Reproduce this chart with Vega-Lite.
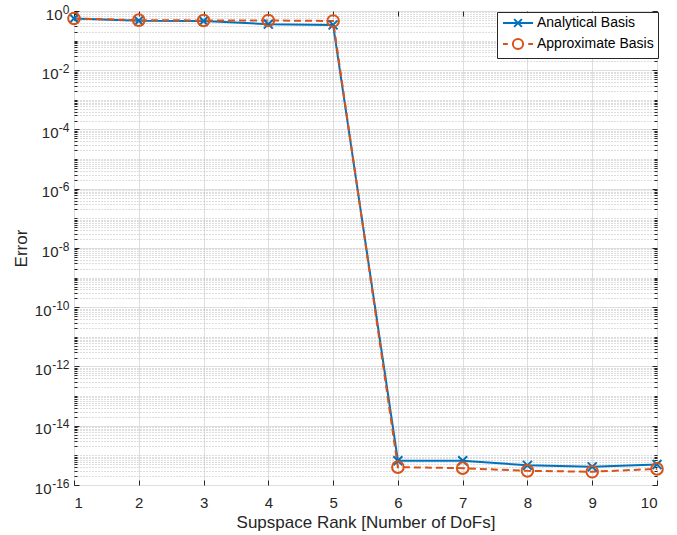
{
  "$schema": "https://vega.github.io/schema/vega-lite/v6.json",
  "autosize": "none",
  "width": 583,
  "height": 474,
  "padding": {"left": 74, "top": 11, "right": 20, "bottom": 50},
  "background": "white",
  "config": {
    "font": "Liberation Sans",
    "view": {"stroke": "#262626", "strokeWidth": 1},
    "axis": {"labelFont": "Liberation Sans", "titleFont": "Liberation Sans", "labelColor": "#262626", "titleColor": "#262626", "tickColor": "#262626", "domain": false, "titleFontWeight": "normal"}
  },
  "data": {
    "values": [
      {"x": 1, "series": "Analytical Basis", "error": 0.56},
      {"x": 2, "series": "Analytical Basis", "error": 0.47},
      {"x": 3, "series": "Analytical Basis", "error": 0.46},
      {"x": 4, "series": "Analytical Basis", "error": 0.36},
      {"x": 5, "series": "Analytical Basis", "error": 0.34},
      {"x": 6, "series": "Analytical Basis", "error": 6.6e-16},
      {"x": 7, "series": "Analytical Basis", "error": 6.6e-16},
      {"x": 8, "series": "Analytical Basis", "error": 4.6e-16},
      {"x": 9, "series": "Analytical Basis", "error": 4.1e-16},
      {"x": 10, "series": "Analytical Basis", "error": 4.9e-16},
      {"x": 1, "series": "Approximate Basis", "error": 0.56},
      {"x": 2, "series": "Approximate Basis", "error": 0.49},
      {"x": 3, "series": "Approximate Basis", "error": 0.48},
      {"x": 4, "series": "Approximate Basis", "error": 0.48},
      {"x": 5, "series": "Approximate Basis", "error": 0.46},
      {"x": 6, "series": "Approximate Basis", "error": 4.0e-16},
      {"x": 7, "series": "Approximate Basis", "error": 3.7e-16},
      {"x": 8, "series": "Approximate Basis", "error": 3.0e-16},
      {"x": 9, "series": "Approximate Basis", "error": 2.8e-16},
      {"x": 10, "series": "Approximate Basis", "error": 3.5e-16}
    ]
  },
  "layer": [
    {
      "transform": [{"filter": "datum.series === 'Analytical Basis'"}],
      "mark": {"type": "line", "color": "#0072BD", "strokeWidth": 2},
      "encoding": {
        "x": {"field": "x", "type": "quantitative", "scale": {"domain": [1, 10], "nice": false, "zero": false},
          "axis": {"orient": "bottom", "values": [1,2,3,4,5,6,7,8,9,10], "grid": true, "gridColor": "#dedede", "gridWidth": 1, "tickSize": -5, "labelPadding": 15, "labelFontSize": 15, "title": "Supspace Rank [Number of DoFs]", "titleFontSize": 17, "titlePadding": 4}},
        "y": {"field": "error", "type": "quantitative", "scale": {"type": "log", "domain": [1e-16, 1], "nice": false},
          "axis": {"orient": "left", "values": [1e-16,1e-14,1e-12,1e-10,1e-8,1e-6,1e-4,1e-2,1], "grid": true, "gridColor": "#dedede", "gridWidth": 1, "tickSize": -5,
            "labelPadding": {"condition": [{"test": "datum.value >= 0.5", "value": 17}, {"test": "datum.value >= 1e-9", "value": 21}], "value": 28},
            "labelFontSize": 15, "labelBaseline": "alphabetic", "labelOffset": 8, "labelAlign": "right",
            "labelExpr": "'10'",
            "title": "Error", "titleFontSize": 17, "titlePadding": 4}}
      }
    },
    {
      "transform": [{"filter": "datum.series === 'Approximate Basis'"}],
      "mark": {"type": "line", "color": "#D95319", "strokeWidth": 2, "strokeDash": [7, 4]},
      "encoding": {
        "x": {"field": "x", "type": "quantitative", "axis": {"orient": "top", "values": [1,2,3,4,5,6,7,8,9,10], "grid": false, "labels": false, "tickSize": -5, "title": null}},
        "y": {"field": "error", "type": "quantitative",
          "axis": {"orient": "left", "values": [2e-16,3e-16,4e-16,5e-16,6e-16,7e-16,8e-16,9e-16,1e-15,2e-15,3e-15,4e-15,5e-15,6e-15,7e-15,8e-15,9e-15,2e-14,3e-14,4e-14,5e-14,6e-14,7e-14,8e-14,9e-14,1e-13,2e-13,3e-13,4e-13,5e-13,6e-13,7e-13,8e-13,9e-13,2e-12,3e-12,4e-12,5e-12,6e-12,7e-12,8e-12,9e-12,1e-11,2e-11,3e-11,4e-11,5e-11,6e-11,7e-11,8e-11,9e-11,2e-10,3e-10,4e-10,5e-10,6e-10,7e-10,8e-10,9e-10,1e-9,2e-9,3e-9,4e-9,5e-9,6e-9,7e-9,8e-9,9e-9,2e-8,3e-8,4e-8,5e-8,6e-8,7e-8,8e-8,9e-8,1e-7,2e-7,3e-7,4e-7,5e-7,6e-7,7e-7,8e-7,9e-7,2e-6,3e-6,4e-6,5e-6,6e-6,7e-6,8e-6,9e-6,1e-5,2e-5,3e-5,4e-5,5e-5,6e-5,7e-5,8e-5,9e-5,2e-4,3e-4,4e-4,5e-4,6e-4,7e-4,8e-4,9e-4,1e-3,2e-3,3e-3,4e-3,5e-3,6e-3,7e-3,8e-3,9e-3,2e-2,3e-2,4e-2,5e-2,6e-2,7e-2,8e-2,9e-2,1e-1,2e-1,3e-1,4e-1,5e-1,6e-1,7e-1,8e-1,9e-1],
            "grid": true, "gridColor": "#bdbdbd", "gridDash": [1, 2], "gridWidth": 1, "labels": false, "tickSize": -3, "title": null}}
      }
    },
    {
      "transform": [{"filter": "datum.series === 'Analytical Basis'"}],
      "mark": {"type": "point", "shape": "M-1,-1L1,1M1,-1L-1,1", "color": "#0072BD", "filled": false, "strokeWidth": 2, "size": 80, "opacity": 1},
      "encoding": {
        "x": {"field": "x", "type": "quantitative", "axis": null},
        "y": {"field": "error", "type": "quantitative", "axis": {"orient": "right", "values": [1e-16,1e-14,1e-12,1e-10,1e-8,1e-6,1e-4,1e-2,1], "grid": false, "labels": false, "tickSize": -5, "title": null}}
      }
    },
    {
      "transform": [{"filter": "datum.series === 'Approximate Basis'"}],
      "mark": {"type": "point", "shape": "circle", "color": "#D95319", "filled": false, "strokeWidth": 2, "size": 135, "opacity": 1},
      "encoding": {
        "x": {"field": "x", "type": "quantitative", "axis": null},
        "y": {"field": "error", "type": "quantitative", "axis": {"orient": "right", "values": [2e-16,3e-16,4e-16,5e-16,6e-16,7e-16,8e-16,9e-16,1e-15,2e-15,3e-15,4e-15,5e-15,6e-15,7e-15,8e-15,9e-15,2e-14,3e-14,4e-14,5e-14,6e-14,7e-14,8e-14,9e-14,1e-13,2e-13,3e-13,4e-13,5e-13,6e-13,7e-13,8e-13,9e-13,2e-12,3e-12,4e-12,5e-12,6e-12,7e-12,8e-12,9e-12,1e-11,2e-11,3e-11,4e-11,5e-11,6e-11,7e-11,8e-11,9e-11,2e-10,3e-10,4e-10,5e-10,6e-10,7e-10,8e-10,9e-10,1e-9,2e-9,3e-9,4e-9,5e-9,6e-9,7e-9,8e-9,9e-9,2e-8,3e-8,4e-8,5e-8,6e-8,7e-8,8e-8,9e-8,1e-7,2e-7,3e-7,4e-7,5e-7,6e-7,7e-7,8e-7,9e-7,2e-6,3e-6,4e-6,5e-6,6e-6,7e-6,8e-6,9e-6,1e-5,2e-5,3e-5,4e-5,5e-5,6e-5,7e-5,8e-5,9e-5,2e-4,3e-4,4e-4,5e-4,6e-4,7e-4,8e-4,9e-4,1e-3,2e-3,3e-3,4e-3,5e-3,6e-3,7e-3,8e-3,9e-3,2e-2,3e-2,4e-2,5e-2,6e-2,7e-2,8e-2,9e-2,1e-1,2e-1,3e-1,4e-1,5e-1,6e-1,7e-1,8e-1,9e-1], "grid": false, "labels": false, "tickSize": -3, "title": null}}
      }
    },
    {
      "mark": {"type": "point", "filled": false, "strokeWidth": 2, "opacity": 0},
      "encoding": {
        "x": {"field": "x", "type": "quantitative", "axis": null},
        "y": {"field": "error", "type": "quantitative", "axis": {"orient": "left", "values": [1e-16,1e-14,1e-12,1e-10,1e-8,1e-6,1e-4,1e-2,1], "grid": false, "ticks": false, "labelPadding": 5, "labelFontSize": 12, "labelAlign": "right", "labelBaseline": "alphabetic", "labelOffset": 2, "labelExpr": "'' + round(log(datum.value)/LN10)", "title": null}},
        "color": {"field": "series", "type": "nominal", "scale": {"domain": ["Analytical Basis", "Approximate Basis"], "range": ["#0072BD", "#D95319"]},
          "legend": {"orient": "none", "legendX": 423, "legendY": 1, "title": null, "strokeColor": "#262626", "fillColor": "white", "padding": 4, "labelFontSize": 14, "labelColor": "#000000", "labelFont": "Liberation Sans", "symbolSize": 36, "symbolStrokeWidth": 2, "symbolOpacity": 1, "symbolOffset": 10, "labelOffset": 12, "rowPadding": 3, "cornerRadius": 0}},
        "shape": {"field": "series", "type": "nominal", "scale": {"domain": ["Analytical Basis", "Approximate Basis"], "range": ["M-5,0L5,0M-1.3,-1.3L1.3,1.3M1.3,-1.3L-1.3,1.3", "M-5,0L-3.4,0M3.4,0L5,0M1.7,0A1.7,1.7 0 1,1 -1.7,0A1.7,1.7 0 1,1 1.7,0"]}}
      }
    }
  ],
  "resolve": {"axis": {"x": "independent", "y": "independent"}}
}
